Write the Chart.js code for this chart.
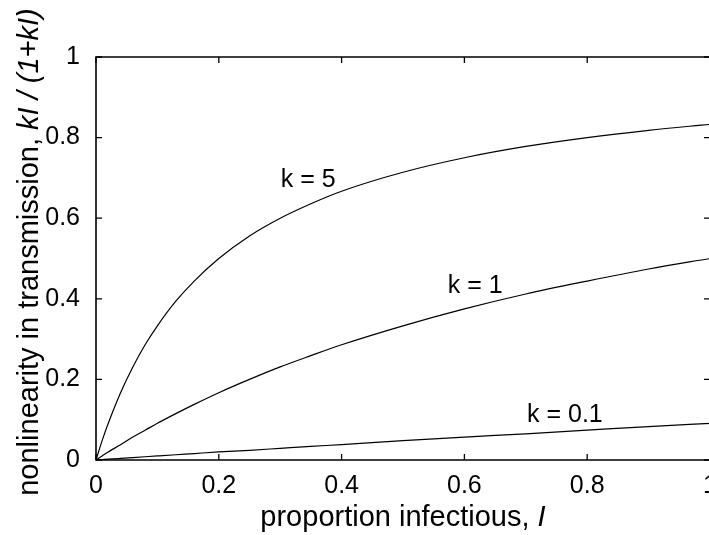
<!DOCTYPE html>
<html>
<head>
<meta charset="utf-8">
<script src="https://cdn.jsdelivr.net/npm/chart.js@4.4.1/dist/chart.umd.min.js"></script>
<style>
  html, body { margin: 0; padding: 0; background: #fff; overflow: hidden; }
  #wrap { width: 712px; height: 535px; position: relative; }
</style>
</head>
<body>
<div id="wrap"><canvas id="c"></canvas></div>
<script>
// Proportion infectious, I
const xValues = [0, 0.01, 0.02, 0.04, 0.06, 0.08, 0.1, 0.13, 0.16, 0.2, 0.25, 0.3, 0.35, 0.4, 0.5, 0.6, 0.7, 0.8, 0.9, 1.0];
// kI/(1+kI)
const seriesK5  = [0, 0.048, 0.091, 0.167, 0.231, 0.286, 0.333, 0.394, 0.444, 0.500, 0.556, 0.600, 0.636, 0.667, 0.714, 0.750, 0.778, 0.800, 0.818, 0.833];
const seriesK1  = [0, 0.010, 0.020, 0.038, 0.057, 0.074, 0.091, 0.115, 0.138, 0.167, 0.200, 0.231, 0.259, 0.286, 0.333, 0.375, 0.412, 0.444, 0.474, 0.500];
const seriesK01 = [0, 0.001, 0.002, 0.004, 0.006, 0.008, 0.010, 0.013, 0.016, 0.020, 0.024, 0.029, 0.034, 0.038, 0.048, 0.057, 0.065, 0.074, 0.083, 0.091];
const seriesNames = ['k = 5', 'k = 1', 'k = 0.1'];
const xTicks = [0, 0.2, 0.4, 0.6, 0.8, 1];
const yTicks = [0, 0.2, 0.4, 0.6, 0.8, 1];
const tickLabels = ['0', '0.2', '0.4', '0.6', '0.8', '1'];
// label anchors in data units (left edge, baseline)
const labelAnchors = [[0.301, 0.677], [0.573, 0.414], [0.702, 0.094]];

const FONT = '"Liberation Sans", Arial, Helvetica, sans-serif';

function toXY(ys) { return xValues.map((x, i) => ({ x: x, y: ys[i] })); }

const framePlugin = {
  id: 'frame',
  afterDraw(chart) {
    const ctx = chart.ctx;
    const a = chart.chartArea;
    const xs = chart.scales.x, ys = chart.scales.y;
    ctx.save();
    ctx.strokeStyle = '#000';
    ctx.lineWidth = 1.6;
    ctx.beginPath();
    ctx.rect(a.left, a.top, a.right - a.left, a.bottom - a.top);
    ctx.stroke();
    const tl = 6;
    ctx.lineWidth = 1.3;
    ctx.beginPath();
    xTicks.forEach(v => {
      const px = xs.getPixelForValue(v);
      ctx.moveTo(px, a.bottom); ctx.lineTo(px, a.bottom - tl);
      ctx.moveTo(px, a.top); ctx.lineTo(px, a.top + tl);
    });
    yTicks.forEach(v => {
      const py = ys.getPixelForValue(v);
      ctx.moveTo(a.left, py); ctx.lineTo(a.left + tl, py);
      ctx.moveTo(a.right, py); ctx.lineTo(a.right - tl, py);
    });
    ctx.stroke();

    // curve labels
    ctx.fillStyle = '#000';
    ctx.font = '25px ' + FONT;
    ctx.textBaseline = 'alphabetic';
    ctx.textAlign = 'left';
    seriesNames.forEach((n, i) => {
      ctx.fillText(n, xs.getPixelForValue(labelAnchors[i][0]), ys.getPixelForValue(labelAnchors[i][1]));
    });

    // axis titles with mixed styles
    function drawSegments(segs, cx, cy) {
      let total = 0;
      segs.forEach(s => { ctx.font = s[1] + '29px ' + FONT; s.w = ctx.measureText(s[0]).width; total += s.w; });
      let x = cx - total / 2;
      segs.forEach(s => { ctx.font = s[1] + '29px ' + FONT; ctx.fillText(s[0], x, cy); x += s.w; });
    }
    drawSegments([['proportion infectious, ', ''], ['I', 'italic ']], (a.left + a.right) / 2, 526);
    ctx.save();
    ctx.translate(38, 252);
    ctx.rotate(-Math.PI / 2);
    drawSegments([['nonlinearity in transmission, ', ''], ['kI / (1+kI)', 'italic ']], 0, 0);
    ctx.restore();
    ctx.restore();
  }
};

const lineStyle = { borderColor: '#000', borderWidth: 1.2, pointRadius: 0, fill: false, cubicInterpolationMode: 'monotone' };
const tickFmt = v => { const i = xTicks.indexOf(Math.round(v * 10) / 10); return i >= 0 ? tickLabels[i] : ''; };

new Chart(document.getElementById('c'), {
  type: 'line',
  data: {
    datasets: [
      Object.assign({ label: seriesNames[0], data: toXY(seriesK5) }, lineStyle),
      Object.assign({ label: seriesNames[1], data: toXY(seriesK1) }, lineStyle),
      Object.assign({ label: seriesNames[2], data: toXY(seriesK01) }, lineStyle)
    ]
  },
  options: {
    responsive: true,
    maintainAspectRatio: false,
    animation: false,
    layout: { padding: { left: 0, top: 57, right: 2, bottom: 0 } },
    plugins: { legend: { display: false }, tooltip: { enabled: false } },
    scales: {
      x: {
        type: 'linear', min: 0, max: 1,
        grid: { display: false }, border: { display: false },
        afterBuildTicks: s => { s.ticks = xTicks.map(v => ({ value: v })); },
        ticks: { color: '#000', font: { family: FONT, size: 25 }, padding: 3, maxRotation: 0, autoSkip: false, callback: tickFmt },
        afterFit: s => { s.height = 75; s.paddingLeft = 0; s.paddingRight = 0; }
      },
      y: {
        type: 'linear', min: 0, max: 1,
        grid: { display: false }, border: { display: false },
        afterBuildTicks: s => { s.ticks = yTicks.map(v => ({ value: v })); },
        ticks: { color: '#000', font: { family: FONT, size: 25 }, padding: 8, autoSkip: false, callback: tickFmt },
        afterFit: s => { s.width = 96; s.paddingTop = 0; s.paddingBottom = 0; }
      }
    }
  },
  plugins: [framePlugin]
});
</script>
</body>
</html>
